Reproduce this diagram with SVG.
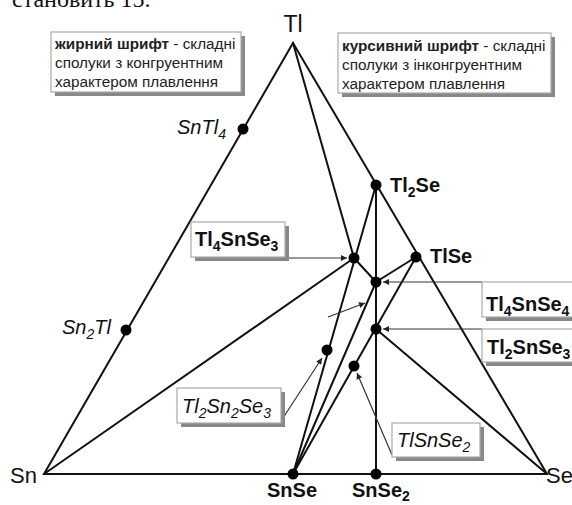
<svg xmlns="http://www.w3.org/2000/svg" width="572" height="505" viewBox="0 0 572 505">
<style>
.ln{stroke:#111;stroke-width:2;fill:none;stroke-linecap:round}
.ld{stroke:#333;stroke-width:1.2;fill:none}
.dot{fill:#000}
.t{font-family:"Liberation Sans",Arial,sans-serif;fill:#111}
.lab{font-size:20px}
.b{font-weight:bold}
.i{font-style:italic}
.box{fill:#fff;stroke:#aaa;stroke-width:1.2}
.sh{fill:#888}
.note{font-size:15.3px;fill:#222}
</style>
<defs>
<marker id="ah" viewBox="0 0 10 10" refX="10" refY="5" markerWidth="10" markerHeight="6" orient="auto" markerUnits="userSpaceOnUse"><path d="M0,0 L10,5 L0,10 z" fill="#222"/></marker>
</defs>
<rect width="572" height="505" fill="#fff"/>
<text x="12" y="7" font-family="Liberation Serif,serif" font-size="24" fill="#111">становить 15.</text>

<g id="connectors">
<path class="ln" d="M293,43 L44,474 L547,474 Z"/>
<path class="ln" d="M293,43 L354,258"/>
<path class="ln" d="M376,185 L293,474"/>
<path class="ln" d="M376,185 L376,474"/>
<path class="ln" d="M416,257 L293,474"/>
<path class="ln" d="M44,474 L354,258"/>
<path class="ln" d="M354,258 L376,282"/>
<path class="ln" d="M416,257 L376,282"/>
<path class="ln" d="M376,282 L293,474"/>
<path class="ln" d="M376,329 L547,474"/>
<path class="ld" d="M200,258 L347,258" marker-end="url(#ah)"/>
<path class="ld" d="M482,282 L383,282" marker-end="url(#ah)"/>
<path class="ld" d="M482,329 L383,329" marker-end="url(#ah)"/>
<path class="ld" d="M283,418 L322,358" marker-end="url(#ah)"/>
<path class="ld" d="M392,455 L357,373" marker-end="url(#ah)"/>
<path class="ld" d="M328,317 L365,303" marker-end="url(#ah)"/>
</g>

<g id="note-bold">
<rect class="sh" x="55" y="36" width="190" height="60"/>
<rect class="box" x="51" y="32" width="190" height="60"/>
<text class="t note" x="55" y="49"><tspan class="b">жирний шрифт</tspan> - складні</text>
<text class="t note" x="55" y="68">сполуки з конгруентним</text>
<text class="t note" x="55" y="87">характером плавлення</text>
</g>
<g id="note-italic">
<rect class="sh" x="342" y="37" width="213" height="60"/>
<rect class="box" x="338" y="33" width="213" height="60"/>
<text class="t note" x="342" y="51"><tspan class="b">курсивний шрифт</tspan> - складні</text>
<text class="t note" x="342" y="70">сполуки з інконгруентним</text>
<text class="t note" x="342" y="89">характером плавлення</text>
</g>

<g id="node-Tl"><text class="t" x="293" y="32" font-size="23" text-anchor="middle">Tl</text></g>
<g id="node-Sn"><text class="t" x="10" y="483" font-size="22">Sn</text></g>
<g id="node-Se"><text class="t" x="546" y="483" font-size="22">Se</text></g>

<g id="node-SnTl4"><circle class="dot" cx="243" cy="129" r="5.5"/>
<text class="t lab i" x="177" y="134">SnTl<tspan font-size="14" dy="5">4</tspan></text></g>
<g id="node-Sn2Tl"><circle class="dot" cx="126" cy="330" r="5.5"/>
<text class="t lab i" x="62" y="334">Sn<tspan font-size="14" dy="5">2</tspan><tspan dy="-5">Tl</tspan></text></g>
<g id="node-Tl2Se"><circle class="dot" cx="376" cy="185" r="5.5"/>
<text class="t lab b" x="390" y="192">Tl<tspan font-size="14" dy="5">2</tspan><tspan dy="-5">Se</tspan></text></g>
<g id="node-TlSe"><circle class="dot" cx="416" cy="257" r="5.5"/>
<text class="t lab b" x="430" y="263">TlSe</text></g>

<g id="node-Tl4SnSe3"><circle class="dot" cx="354" cy="258" r="5.5"/>
<rect class="sh" x="195" y="226" width="94" height="35"/>
<rect class="box" x="191" y="222" width="94" height="35"/>
<text class="t lab b" x="195" y="246">Tl<tspan font-size="14" dy="5">4</tspan><tspan dy="-5">SnSe</tspan><tspan font-size="14" dy="5">3</tspan></text></g>

<g id="node-Tl4SnSe4"><circle class="dot" cx="376" cy="282" r="5.5"/>
<rect class="sh" x="486" y="286" width="100" height="35"/>
<rect class="box" x="482" y="282" width="100" height="35"/>
<text class="t lab b" x="486" y="311">Tl<tspan font-size="14" dy="5">4</tspan><tspan dy="-5">SnSe</tspan><tspan font-size="14" dy="5">4</tspan></text></g>

<g id="node-Tl2SnSe3"><circle class="dot" cx="376" cy="329" r="5.5"/>
<rect class="sh" x="486" y="333" width="100" height="33"/>
<rect class="box" x="482" y="329" width="100" height="33"/>
<text class="t lab b" x="487" y="354">Tl<tspan font-size="14" dy="5">2</tspan><tspan dy="-5">SnSe</tspan><tspan font-size="14" dy="5">3</tspan></text></g>

<g id="node-Tl2Sn2Se3"><circle class="dot" cx="327" cy="350" r="5.5"/>
<rect class="sh" x="181" y="392" width="104" height="35"/>
<rect class="box" x="177" y="388" width="104" height="35"/>
<text class="t lab i" x="182" y="413">Tl<tspan font-size="14" dy="5">2</tspan><tspan dy="-5">Sn</tspan><tspan font-size="14" dy="5">2</tspan><tspan dy="-5">Se</tspan><tspan font-size="14" dy="5">3</tspan></text></g>

<g id="node-TlSnSe2"><circle class="dot" cx="354" cy="366" r="5.5"/>
<rect class="sh" x="396" y="427" width="88" height="34"/>
<rect class="box" x="392" y="423" width="88" height="34"/>
<text class="t lab i" x="397" y="447">TlSnSe<tspan font-size="14" dy="5">2</tspan></text></g>

<g id="node-SnSe"><circle class="dot" cx="293" cy="474" r="5.5"/>
<text class="t lab b" x="267" y="497">SnSe</text></g>
<g id="node-SnSe2"><circle class="dot" cx="376" cy="474" r="5.5"/>
<text class="t lab b" x="352" y="497">SnSe<tspan font-size="14" dy="4">2</tspan></text></g>
</svg>
